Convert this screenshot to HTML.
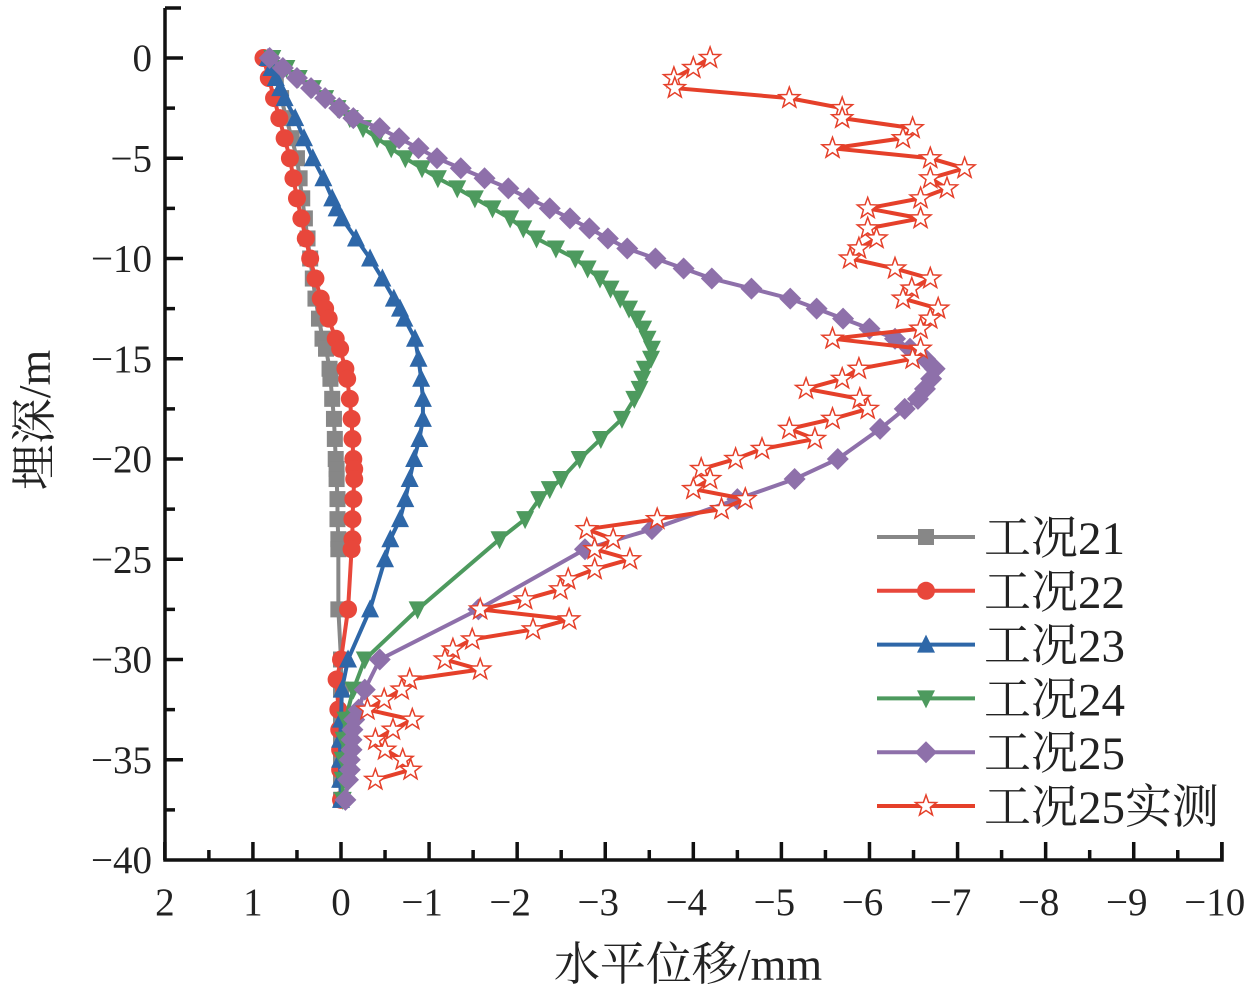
<!DOCTYPE html>
<html><head><meta charset="utf-8"><style>
body{margin:0;background:#fff}
svg text{font-family:"Liberation Serif","Noto Serif CJK SC",serif;fill:#222}
</style></head><body>
<svg id="c" width="1260" height="997" viewBox="0 0 1260 997"></svg>
<script>
const depths25m=[0,-0.5,-1,-1.5,-2,-2.5,-3,-3.5,-4,-4.5,-5,-5.5,-6,-6.5,-7,-7.5,-8,-8.5,-9,-9.5,-10,-10.5,-11,-11.5,-12,-12.5,-13,-13.5,-14,-14.5,-15,-15.5,-16,-16.5,-17,-17.5,-18,-18.5,-19,-19.5,-20,-20.5,-21,-21.5,-22,-22.5,-23,-23.5,-24,-24.5,-25,-25.5,-26,-26.5,-27,-27.5,-28,-28.5,-29,-29.5,-30,-30.5,-31,-31.5,-32,-32.5,-33,-33.5,-34,-34.5,-35,-35.5,-36];
const disp25m=[-4.19,-4.00,-3.78,-3.79,-5.09,-5.69,-5.69,-6.49,-6.38,-5.58,-6.69,-7.08,-6.69,-6.88,-6.58,-5.98,-6.58,-5.98,-6.08,-5.88,-5.78,-6.29,-6.69,-6.48,-6.38,-6.78,-6.69,-6.58,-5.58,-6.58,-6.49,-5.88,-5.69,-5.28,-5.89,-5.98,-5.58,-5.09,-5.38,-4.78,-4.48,-4.09,-4.19,-4.00,-4.59,-4.32,-3.59,-2.79,-3.09,-2.88,-3.28,-2.88,-2.58,-2.49,-2.09,-1.58,-2.59,-2.18,-1.49,-1.27,-1.18,-1.58,-0.78,-0.69,-0.49,-0.30,-0.81,-0.59,-0.39,-0.50,-0.70,-0.79,-0.39];
const depths21=[0,-1,-2,-3,-4,-5,-6,-7,-8,-9,-10,-11,-12,-13,-14,-14.5,-15.5,-16,-17,-18,-19,-20,-20.5,-21,-22,-23,-24,-24.5,-27.5,-30,-31.5,-33,-34,-35,-36,-37];
const disp21=[0.8,0.74,0.68,0.62,0.56,0.5,0.47,0.44,0.41,0.38,0.35,0.32,0.29,0.25,0.21,0.17,0.13,0.12,0.1,0.08,0.07,0.06,0.05,0.05,0.04,0.04,0.03,0.03,0.03,0,0,0,0,0,0,0];
const depths22=[0,-1,-2,-3,-4,-5,-6,-7,-8,-9,-10,-11,-12,-12.5,-13,-14,-14.5,-15.5,-16,-17,-18,-19,-20,-20.5,-21,-22,-23,-24,-24.5,-27.5,-30,-31,-32.5,-33.5,-34.5,-35.5,-37];
const disp22=[0.88,0.82,0.76,0.7,0.64,0.58,0.54,0.5,0.45,0.4,0.35,0.29,0.23,0.18,0.14,0.06,0.01,-0.05,-0.07,-0.1,-0.12,-0.13,-0.14,-0.15,-0.15,-0.14,-0.13,-0.13,-0.12,-0.08,0,0.05,0.03,0.02,0.01,0.01,0];
const depths23=[0,-0.5,-1,-1.5,-2,-3,-4,-5,-6,-7,-7.5,-8,-9,-10,-11,-12,-12.5,-13,-14,-15,-16,-17,-18,-19,-20,-21,-22,-23,-24,-25,-27.5,-30,-31.5,-33,-34,-35,-36,-37];
const disp23=[0.83,0.79,0.74,0.69,0.64,0.52,0.42,0.32,0.2,0.1,0.05,-0.01,-0.17,-0.33,-0.47,-0.6,-0.67,-0.72,-0.84,-0.88,-0.91,-0.93,-0.93,-0.89,-0.83,-0.78,-0.73,-0.67,-0.56,-0.5,-0.33,-0.08,-0.01,0,0.01,0.01,0.01,0];
const depths24=[0,-0.5,-1,-1.5,-2,-2.5,-3,-3.5,-4,-4.5,-5,-5.5,-6,-6.5,-7,-7.5,-8,-8.5,-9,-9.5,-10,-10.5,-11,-11.5,-12,-12.5,-13,-13.5,-14,-14.5,-15,-15.5,-16,-16.5,-17,-18,-19,-20,-21,-21.5,-22,-23,-24,-27.5,-30,-31.5,-33,-34,-35,-36,-37];
const disp24=[0.78,0.62,0.48,0.32,0.18,0.04,-0.1,-0.25,-0.41,-0.57,-0.73,-0.92,-1.1,-1.32,-1.52,-1.72,-1.92,-2.07,-2.22,-2.44,-2.66,-2.8,-2.94,-3.06,-3.17,-3.27,-3.36,-3.43,-3.48,-3.53,-3.52,-3.45,-3.42,-3.39,-3.33,-3.19,-2.95,-2.71,-2.5,-2.37,-2.25,-2.09,-1.8,-0.87,-0.27,-0.14,-0.05,-0.03,-0.02,-0.02,-0.02];
const depths25=[0,-0.5,-1,-1.5,-2,-2.5,-3,-3.5,-4,-4.5,-5,-5.5,-6,-6.5,-7,-7.5,-8,-8.5,-9,-9.5,-10,-10.5,-11,-11.5,-12,-12.5,-13,-13.5,-14,-14.5,-15,-15.5,-16,-16.5,-17,-17.5,-18.5,-20,-21,-22,-23.5,-24.5,-27.5,-30,-31.5,-32.5,-33,-33.5,-34,-34.5,-35,-35.5,-36,-37];
const disp25=[0.81,0.66,0.5,0.34,0.18,0.02,-0.14,-0.44,-0.66,-0.88,-1.09,-1.36,-1.63,-1.9,-2.13,-2.37,-2.6,-2.82,-3.03,-3.25,-3.57,-3.89,-4.21,-4.66,-5.1,-5.4,-5.7,-6.0,-6.29,-6.46,-6.63,-6.74,-6.7,-6.63,-6.55,-6.4,-6.12,-5.64,-5.15,-4.5,-3.53,-2.77,-1.56,-0.44,-0.27,-0.2,-0.15,-0.13,-0.12,-0.12,-0.1,-0.1,-0.08,-0.05];
const xTicks=[2,1,0,-1,-2,-3,-4,-5,-6,-7,-8,-9,-10];
const yTicks=[0,-5,-10,-15,-20,-25,-30,-35,-40];
const legendLabels=["工况21","工况22","工况23","工况24","工况25","工况25实测"];

const NS="http://www.w3.org/2000/svg";
const svg=document.getElementById('c');
const X=v=>341-88.08*v;
const Y=d=>58-20.05*d;
function mk(t,a,p){const e=document.createElementNS(NS,t);for(const k in a)e.setAttribute(k,a[k]);(p||svg).appendChild(e);return e;}
const fmt=v=>v<0?'\u2212'+(-v):String(v);

const ax=mk('g',{});


mk('path',{d:'M165 8 H181 M165 8 V860 H1222 V842',stroke:'#111','stroke-width':3.5,fill:'none'},ax);
for(let d=0;d>=-37.5;d-=2.5){const maj=d%5===0;mk('line',{x1:165,x2:165+(maj?18:10),y1:Y(d),y2:Y(d),stroke:'#111','stroke-width':3.5},ax);}
for(let v=2;v>=-10;v-=0.5){const maj=Number.isInteger(v);mk('line',{x1:X(v),x2:X(v),y1:860,y2:860-(maj?18:10),stroke:'#111','stroke-width':3.5},ax);}
yTicks.forEach(t=>{const e=mk('text',{x:152,y:Y(t)+13,'text-anchor':'end','font-size':39},ax);e.textContent=fmt(t);

});
xTicks.forEach(t=>{const e=mk('text',{x:X(t)+(t<0?-7:0),y:915,'text-anchor':'middle','font-size':39},ax);e.textContent=fmt(t);

});
const yt=mk('text',{x:0,y:0,'text-anchor':'middle','font-size':46,transform:'translate(50,420) rotate(-90)'});
yt.textContent='埋深/m';


const xt=mk('text',{x:688,y:980,'text-anchor':'middle','font-size':46});
xt.textContent='水平位移/mm';



function marker(type,x,y,col,g){
 const s=8;
 if(type==='sq')mk('rect',{x:x-s,y:y-s,width:2*s,height:2*s,fill:col},g);
 else if(type==='ci')mk('circle',{cx:x,cy:y,r:s+1,fill:col},g);
 else if(type==='up')mk('polygon',{points:`${x},${y-s-2} ${x-s-1},${y+s} ${x+s+1},${y+s}`,fill:col},g);
 else if(type==='dn')mk('polygon',{points:`${x},${y+s+2} ${x-s-1},${y-s} ${x+s+1},${y-s}`,fill:col},g);
 else if(type==='di')mk('polygon',{points:`${x},${y-s-3} ${x+s+3},${y} ${x},${y+s+3} ${x-s-3},${y}`,fill:col},g);
 else if(type==='st'){let p=[];for(let i=0;i<10;i++){const r=i%2?4.5:11,a=-Math.PI/2+i*Math.PI/5;p.push((x+r*Math.cos(a)).toFixed(1)+','+(y+r*Math.sin(a)).toFixed(1));}
  mk('polygon',{points:p.join(' '),fill:'#fff',stroke:col,'stroke-width':1.5},g);}
}
const series=[
 {n:'series-case21',d:depths21,v:disp21,c:'#878787',m:'sq'},
 {n:'series-case22',d:depths22,v:disp22,c:'#e8473b',m:'ci'},
 {n:'series-case23',d:depths23,v:disp23,c:'#2e67a8',m:'up'},
 {n:'series-case24',d:depths24,v:disp24,c:'#4d9a5e',m:'dn'},
 {n:'series-case25',d:depths25,v:disp25,c:'#8e70aa',m:'di'},
 {n:'series-case25-measured',d:depths25m,v:disp25m,c:'#e5402a',m:'st'}];
series.forEach(s=>{
 const g=mk('g',{});
 
 
 mk('polyline',{points:s.d.map((d,i)=>X(s.v[i])+','+Y(d)).join(' '),fill:'none',stroke:s.c,'stroke-width':4},g);
 s.d.forEach((d,i)=>marker(s.m,X(s.v[i]),Y(d),s.c,g));
});
const lg=mk('g',{});


series.forEach((s,i)=>{
 const y=537+i*53.8;
 const e=mk('g',{},lg);
 
 
 mk('line',{x1:877,x2:975,y1:y,y2:y,stroke:s.c,'stroke-width':4},e);
 marker(s.m,926,y,s.c,e);
 const t=mk('text',{x:984,y:y+17,'font-size':47},e);t.textContent=legendLabels[i];
});
</script>
</body></html>
